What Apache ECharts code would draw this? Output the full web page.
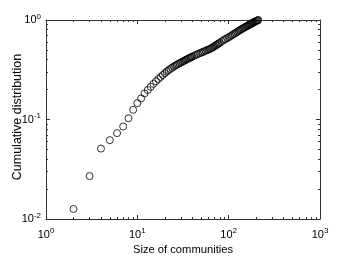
<!DOCTYPE html>
<html><head><meta charset="utf-8">
<script src="https://cdn.jsdelivr.net/npm/echarts@6/dist/echarts.min.js"></script>
<style>html,body{margin:0;padding:0;background:#fff}#c{width:354px;height:273px}</style>
</head><body><div id="c"></div>
<script>
// Community sizes and their cumulative distribution
var sizes = [2,3,4,5,6,7,8,9,10,11,12,13,14,15,16,17,18,19,20,21,22,23,24,25,26,27,28,29,30,31,32,33,34,35,36,37,38,39,40,
  42,44,46,48,50,52,54,56,58,60,62,64,66,68,70,72,74,76,78,80,
  84,88,92,96,100,104,108,112,116,120,124,128,132,136,140,144,148,152,156,160,164,168,172,176,180,184,188,192,196,200,204,208,211];
var cumDist = [0.0126,0.027,0.051,0.062,0.073,0.085,0.103,0.125,0.146,0.163,0.183,0.198,0.213,0.228,0.242,0.255,0.268,0.280,0.292,0.303,0.313,0.322,0.331,0.340,0.348,0.355,0.362,0.368,0.374,0.380,0.386,0.392,0.398,0.403,0.409,0.414,0.419,0.424,0.429,
  0.438,0.447,0.455,0.463,0.470,0.477,0.484,0.491,0.498,0.505,0.511,0.518,0.526,0.535,0.545,0.554,0.563,0.573,0.582,0.592,
  0.610,0.628,0.643,0.657,0.671,0.685,0.700,0.716,0.731,0.746,0.760,0.774,0.788,0.801,0.813,0.826,0.838,0.850,0.862,0.873,0.884,0.895,0.906,0.917,0.927,0.938,0.948,0.958,0.967,0.976,0.985,0.994,1.0];
var xTickValues = [1,10,100,1000];
var xTickExps = ['0','1','2','3'];
var yTickValues = [0.01,0.1,1];
var yTickExps = ['-2','-1','0'];
var xMinorTicks = [2,3,4,5,6,7,8,9,20,30,40,50,60,70,80,90,200,300,400,500,600,700,800,900];
var yMinorTicks = [0.02,0.03,0.04,0.05,0.06,0.07,0.08,0.09,0.2,0.3,0.4,0.5,0.6,0.7,0.8,0.9];

var FONT = '"Liberation Sans", Arial, Helvetica, sans-serif';
var AX = '#333';
var rich = {
  b: {fontSize: 11, fontFamily: FONT, color: '#000'},
  e: {fontSize: 8, fontFamily: FONT, color: '#000', verticalAlign: 'bottom', padding: [0,0,7,0]}
};
function fmt(vals, exps) {
  return function (v) {
    for (var i = 0; i < vals.length; i++) {
      if (Math.abs(v - vals[i]) / vals[i] < 1e-6) return '{b|10}{e|' + exps[i] + '}';
    }
    return '';
  };
}
function mkX(pos, named) {
  return {
    type: 'log', logBase: 10, min: 1, max: 1000, position: pos, gridIndex: 0,
    name: named ? 'Size of communities' : '', nameLocation: 'middle', nameGap: 25, nameMoveOverlap: false,
    nameTextStyle: {fontSize: 11.2, fontFamily: FONT, color: '#000'},
    axisLine: {show: true, onZero: false, lineStyle: {color: AX, width: 1}},
    axisTick: {show: true, inside: true, length: 4, lineStyle: {color: AX}},
    axisLabel: {show: named, margin: 8, formatter: fmt(xTickValues, xTickExps), rich: rich},
    splitLine: {show: false}
  };
}
function mkXMinor(pos) {
  return {
    type: 'value', min: 0, max: 3, position: pos, gridIndex: 0,
    axisLine: {show: false, onZero: false},
    axisTick: {show: true, inside: true, length: 2, customValues: xMinorTicks.map(Math.log10), lineStyle: {color: AX}},
    axisLabel: {show: false}, splitLine: {show: false}
  };
}
function mkY(pos, named) {
  return {
    type: 'log', logBase: 10, min: 0.01, max: 1, position: pos, gridIndex: 0,
    name: named ? 'Cumulative distribution' : '', nameLocation: 'middle', nameGap: 22, nameMoveOverlap: false,
    nameTextStyle: {fontSize: 12.5, fontFamily: FONT, color: '#000', padding: [0, 0, 0, 5]},
    axisLine: {show: true, onZero: false, lineStyle: {color: AX, width: 1}},
    axisTick: {show: true, inside: true, length: 4, lineStyle: {color: AX}},
    axisLabel: {show: named, margin: 5, formatter: fmt(yTickValues, yTickExps), rich: rich},
    splitLine: {show: false}
  };
}
function mkYMinor(pos) {
  return {
    type: 'value', min: -2, max: 0, position: pos, gridIndex: 0,
    axisLine: {show: false, onZero: false},
    axisTick: {show: true, inside: true, length: 2, customValues: yMinorTicks.map(Math.log10), lineStyle: {color: AX}},
    axisLabel: {show: false}, splitLine: {show: false}
  };
}
var chart = echarts.init(document.getElementById('c'), null, {renderer: 'canvas'});
var pts = sizes.map(function (s, i) { return [s, cumDist[i]]; });
chart.setOption({
  animation: false,
  backgroundColor: '#fff',
  grid: {left: 46, right: 34, top: 20, bottom: 54, containLabel: false, outerBoundsMode: 'none'},
  xAxis: [mkX('bottom', true), mkX('top', false), mkXMinor('bottom'), mkXMinor('top')],
  yAxis: [mkY('left', true), mkY('right', false), mkYMinor('left'), mkYMinor('right')],
  series: [{
    type: 'scatter', xAxisIndex: 0, yAxisIndex: 0, data: pts,
    symbol: 'circle', symbolSize: 7,
    itemStyle: {color: 'rgba(0,0,0,0)', borderColor: '#000', borderWidth: 1}
  }]
});
</script></body></html>
